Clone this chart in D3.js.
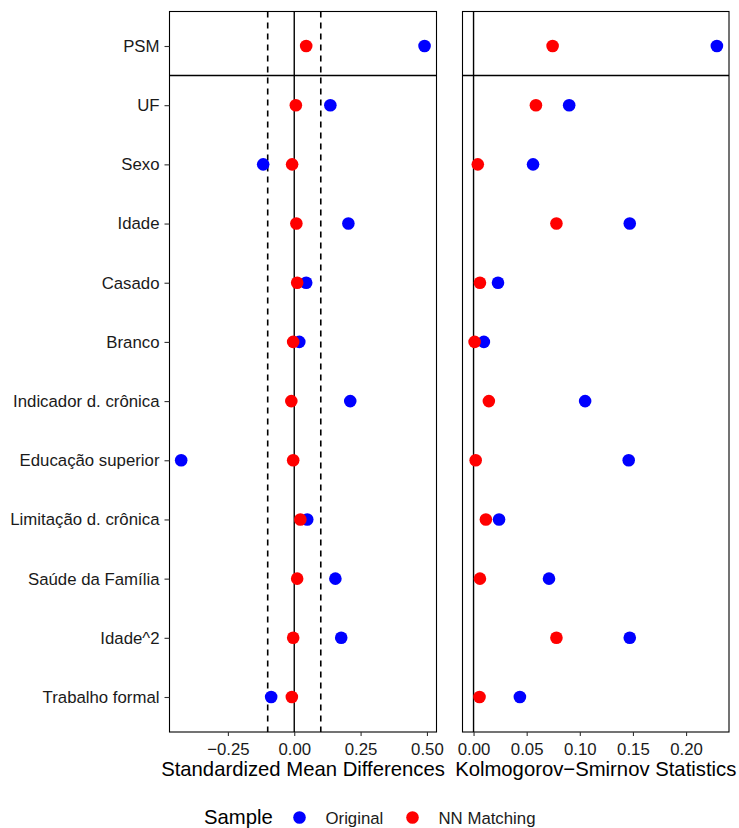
<!DOCTYPE html>
<html>
<head>
<meta charset="utf-8">
<script src="https://cdn.jsdelivr.net/npm/d3@7"></script>
<style>
  body { margin: 0; background: #fff; }
  svg text { font-family: "Liberation Sans", Arial, sans-serif; }
</style>
</head>
<body>
<div id="container"></div>
<script>
/* DATA */
const covariates = ["PSM", "UF", "Sexo", "Idade", "Casado", "Branco", "Indicador d. crônica",
  "Educação superior", "Limitação d. crônica", "Saúde da Família", "Idade^2", "Trabalho formal"];

// standardized mean differences
const smdOriginal = [0.491, 0.136, -0.117, 0.204, 0.045, 0.019, 0.211, -0.426, 0.049, 0.155, 0.177, -0.087];
const smdMatched  = [0.045, 0.006, -0.008, 0.008, 0.011, -0.004, -0.011, -0.004, 0.023, 0.011, -0.004, -0.009];

// kolmogorov-smirnov statistics
const ksOriginal = [0.229, 0.090, 0.056, 0.147, 0.023, 0.0097, 0.105, 0.146, 0.024, 0.071, 0.147, 0.0436];
const ksMatched  = [0.0744, 0.0587, 0.004, 0.078, 0.006, 0.001, 0.0144, 0.002, 0.0116, 0.006, 0.078, 0.0056];

const smdTicks = [-0.25, 0, 0.25, 0.5];
const ksTicks = [0, 0.05, 0.1, 0.15, 0.2];
const samples = ["Original", "NN Matching"];

/* CONSTANTS */
const width = 739, height = 828;
const panelTop = 11.5, panelBottom = 732;
const colors = { "Original": "#0000ff", "NN Matching": "#ff0000" };
const radius = 6.3;
const axisFont = 16.8, titleFont = 20.3;

const svg = d3.select("#container").append("svg")
  .attr("width", width)
  .attr("height", height);

const yScale = d3.scalePoint()
  .domain(covariates)
  .range([46, 697]);

const fmt = d => d3.format(".2f")(d).replace("-", "\u2212");

function panel(x0, x1, domain, ticks, title, orig, matched, refLines, showY) {
  const xScale = d3.scaleLinear().domain(domain).range([x0, x1]);
  const g = svg.append("g");

  // reference lines
  refLines.forEach(r => {
    g.append("line")
      .attr("x1", xScale(r.v)).attr("x2", xScale(r.v))
      .attr("y1", panelTop).attr("y2", panelBottom)
      .attr("stroke", "#000")
      .attr("stroke-width", r.dash ? 1.6 : 1.4)
      .attr("stroke-dasharray", r.dash ? "6,5" : null);
  });

  // separator under PSM
  const sepY = (yScale(covariates[0]) + yScale(covariates[1])) / 2;
  g.append("line")
    .attr("x1", x0).attr("x2", x1)
    .attr("y1", sepY).attr("y2", sepY)
    .attr("stroke", "#000").attr("stroke-width", 1.5);

  // points: original first, matched on top
  g.selectAll(".orig")
    .data(covariates)
    .join("circle")
    .attr("class", "orig")
    .attr("cx", (d, i) => xScale(orig[i]))
    .attr("cy", d => yScale(d))
    .attr("r", radius)
    .attr("fill", colors["Original"]);

  g.selectAll(".matched")
    .data(covariates)
    .join("circle")
    .attr("class", "matched")
    .attr("cx", (d, i) => xScale(matched[i]))
    .attr("cy", d => yScale(d))
    .attr("r", radius)
    .attr("fill", colors["NN Matching"]);

  // border
  g.append("rect")
    .attr("x", x0).attr("y", panelTop)
    .attr("width", x1 - x0).attr("height", panelBottom - panelTop)
    .attr("fill", "none").attr("stroke", "#000").attr("stroke-width", 1.1);

  // x axis
  const xAxis = g.append("g")
    .attr("transform", `translate(0,${panelBottom})`)
    .call(d3.axisBottom(xScale).tickValues(ticks).tickFormat(fmt).tickSize(4).tickPadding(3));
  xAxis.select(".domain").remove();
  xAxis.selectAll("line").attr("stroke", "#333").attr("stroke-width", 1.1);
  xAxis.selectAll("text").attr("font-size", axisFont).attr("fill", "#1a1a1a")
    .attr("dy", null).attr("y", 22.5)
    .style("font-family", "'Liberation Sans', Arial, sans-serif");

  g.append("text")
    .attr("x", (x0 + x1) / 2)
    .attr("y", 776)
    .attr("text-anchor", "middle")
    .attr("font-size", titleFont)
    .attr("fill", "#000")
    .text(title);

  if (showY) {
    const yAxis = g.append("g")
      .attr("transform", `translate(${x0},0)`)
      .call(d3.axisLeft(yScale).tickSize(5).tickPadding(5));
    yAxis.select(".domain").remove();
    yAxis.selectAll("line").attr("stroke", "#333").attr("stroke-width", 1.1);
    yAxis.selectAll("text").attr("font-size", axisFont).attr("fill", "#1a1a1a")
      .style("font-family", "'Liberation Sans', Arial, sans-serif");
  }
}

panel(169.5, 436.5, [-0.470, 0.536], smdTicks, "Standardized Mean Differences",
  smdOriginal, smdMatched, [{ v: 0, dash: false }, { v: -0.1, dash: true }, { v: 0.1, dash: true }], true);

panel(462.5, 729, [-0.0104, 0.2404], ksTicks, "Kolmogorov\u2212Smirnov Statistics",
  ksOriginal, ksMatched, [{ v: 0, dash: false }], false);

/* LEGEND */
const legend = svg.append("g");
legend.append("text")
  .attr("x", 204).attr("y", 824)
  .attr("font-size", titleFont)
  .text("Sample");

const legendX = { "Original": 299.5, "NN Matching": 412.5 };
samples.forEach(s => {
  legend.append("circle")
    .attr("cx", legendX[s]).attr("cy", 817.5)
    .attr("r", radius)
    .attr("fill", colors[s]);
  legend.append("text")
    .attr("x", legendX[s] + 26).attr("y", 824)
    .attr("font-size", axisFont)
    .attr("fill", "#1a1a1a")
    .text(s);
});
</script>
</body>
</html>
